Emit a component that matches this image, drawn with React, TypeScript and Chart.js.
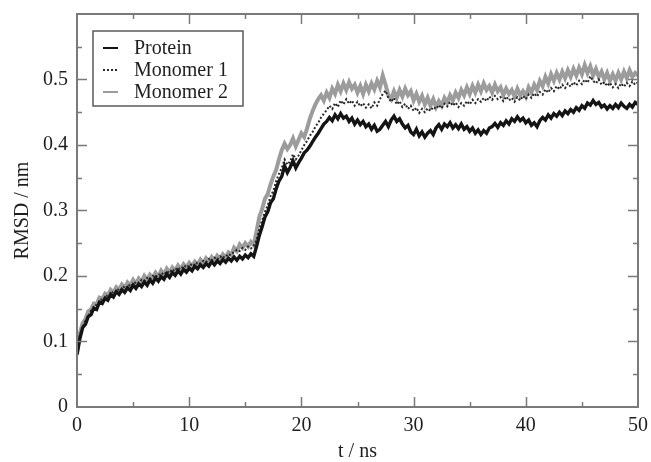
import React, { useEffect, useRef } from "react";
import { Chart, registerables } from "chart.js";

Chart.register(...registerables);

// sampling interval of the trajectories (ns)
const T_STEP = 0.25;

const X_TICKS = [0, 10, 20, 30, 40, 50];
const Y_TICKS = [0, 0.1, 0.2, 0.3, 0.4, 0.5];

const SERIES_LABELS = ["Protein", "Monomer 1", "Monomer 2"];

const protein = [
  0.080, 0.104, 0.121, 0.126,
  0.138, 0.141, 0.151, 0.149,
  0.160, 0.158, 0.166, 0.163,
  0.172, 0.168, 0.176, 0.172,
  0.179, 0.175, 0.182, 0.178,
  0.186, 0.181, 0.188, 0.184,
  0.191, 0.186, 0.194, 0.189,
  0.197, 0.192, 0.199, 0.195,
  0.203, 0.198, 0.205, 0.201,
  0.208, 0.203, 0.210, 0.206,
  0.212, 0.208, 0.215, 0.211,
  0.217, 0.213, 0.219, 0.215,
  0.222, 0.217, 0.223, 0.219,
  0.225, 0.221, 0.227, 0.223,
  0.229, 0.224, 0.230, 0.226,
  0.232, 0.228, 0.234, 0.230,
  0.245, 0.262, 0.275, 0.290,
  0.298, 0.312, 0.318, 0.333,
  0.345, 0.352, 0.368, 0.358,
  0.366, 0.376, 0.365, 0.373,
  0.380, 0.388, 0.392, 0.398,
  0.405, 0.412, 0.418, 0.425,
  0.432, 0.436, 0.442, 0.437,
  0.446, 0.440, 0.448, 0.441,
  0.444, 0.436, 0.441, 0.432,
  0.438, 0.431, 0.436, 0.428,
  0.432, 0.424, 0.430, 0.421,
  0.424, 0.430, 0.436, 0.428,
  0.438, 0.444, 0.436, 0.440,
  0.432, 0.426, 0.430, 0.420,
  0.416, 0.424, 0.414, 0.420,
  0.412, 0.418, 0.422, 0.416,
  0.426, 0.431, 0.424, 0.432,
  0.428, 0.434, 0.426, 0.431,
  0.425, 0.432, 0.424, 0.428,
  0.421, 0.426, 0.418, 0.423,
  0.416, 0.422, 0.418, 0.426,
  0.428, 0.433, 0.427, 0.434,
  0.430, 0.437, 0.432, 0.440,
  0.436, 0.443, 0.437, 0.441,
  0.434, 0.438, 0.430, 0.434,
  0.428, 0.437, 0.442, 0.438,
  0.446, 0.441, 0.448, 0.444,
  0.450, 0.445, 0.452, 0.448,
  0.454, 0.450, 0.457, 0.453,
  0.460, 0.456, 0.464, 0.461,
  0.468, 0.462, 0.465, 0.458,
  0.461, 0.455, 0.460, 0.456,
  0.462, 0.457, 0.464, 0.459,
  0.456, 0.462, 0.458, 0.465,
  0.462,
];

const monomer1 = [
  0.082, 0.110, 0.121, 0.132,
  0.138, 0.147, 0.150, 0.157,
  0.159, 0.166, 0.165, 0.172,
  0.171, 0.177, 0.175, 0.181,
  0.179, 0.185, 0.182, 0.188,
  0.186, 0.191, 0.189, 0.194,
  0.192, 0.197, 0.195, 0.200,
  0.198, 0.203, 0.201, 0.206,
  0.203, 0.209, 0.206, 0.212,
  0.209, 0.214, 0.212, 0.217,
  0.214, 0.219, 0.216, 0.221,
  0.219, 0.223, 0.221, 0.226,
  0.223, 0.228, 0.225, 0.230,
  0.227, 0.232, 0.230, 0.235,
  0.236, 0.240, 0.238, 0.243,
  0.240, 0.245, 0.242, 0.246,
  0.255, 0.272, 0.285, 0.298,
  0.308, 0.322, 0.330, 0.345,
  0.356, 0.365, 0.378, 0.370,
  0.375, 0.386, 0.378, 0.384,
  0.392, 0.400, 0.406, 0.414,
  0.420, 0.428, 0.434, 0.442,
  0.448, 0.453, 0.460, 0.455,
  0.464, 0.458, 0.468, 0.462,
  0.470, 0.463, 0.468, 0.460,
  0.466, 0.459, 0.464, 0.457,
  0.462, 0.456, 0.465, 0.460,
  0.470, 0.478, 0.483, 0.472,
  0.466, 0.472, 0.462, 0.467,
  0.458, 0.463, 0.455, 0.460,
  0.452, 0.457, 0.449, 0.455,
  0.450, 0.456, 0.452, 0.458,
  0.455, 0.461, 0.456, 0.463,
  0.459, 0.466, 0.460, 0.465,
  0.458, 0.464, 0.460, 0.467,
  0.462, 0.469, 0.464, 0.470,
  0.466, 0.472, 0.467, 0.474,
  0.469, 0.475, 0.470, 0.473,
  0.467, 0.474, 0.468, 0.472,
  0.466, 0.473, 0.468, 0.475,
  0.470, 0.477, 0.472, 0.479,
  0.474, 0.481, 0.477, 0.485,
  0.480, 0.487, 0.482, 0.490,
  0.485, 0.492, 0.487, 0.494,
  0.489, 0.496, 0.491, 0.498,
  0.493, 0.500, 0.495, 0.505,
  0.498, 0.494, 0.500, 0.492,
  0.496, 0.490, 0.495, 0.488,
  0.493, 0.487, 0.494, 0.489,
  0.495, 0.490, 0.497, 0.492,
  0.496,
];

const monomer2 = [
  0.085, 0.112, 0.128, 0.134,
  0.146, 0.149, 0.158, 0.157,
  0.167, 0.165, 0.173, 0.170,
  0.179, 0.175, 0.183, 0.179,
  0.187, 0.182, 0.190, 0.185,
  0.194, 0.188, 0.196, 0.191,
  0.200, 0.194, 0.202, 0.197,
  0.205, 0.199, 0.208, 0.202,
  0.211, 0.205, 0.213, 0.208,
  0.216, 0.210, 0.218, 0.213,
  0.220, 0.215, 0.222, 0.218,
  0.225, 0.219, 0.227, 0.222,
  0.229, 0.223, 0.231, 0.226,
  0.233, 0.228, 0.236, 0.232,
  0.243, 0.238, 0.248, 0.243,
  0.250, 0.245, 0.252, 0.247,
  0.268, 0.290, 0.302, 0.318,
  0.325, 0.340, 0.352, 0.362,
  0.378, 0.392, 0.402, 0.394,
  0.400, 0.410, 0.398, 0.408,
  0.418, 0.412, 0.425, 0.440,
  0.452, 0.462, 0.470, 0.476,
  0.468, 0.480, 0.472, 0.486,
  0.478, 0.492, 0.482, 0.494,
  0.484, 0.496, 0.486, 0.492,
  0.480, 0.490, 0.478, 0.492,
  0.482, 0.494, 0.485, 0.498,
  0.488, 0.506, 0.492, 0.476,
  0.470, 0.482, 0.472, 0.484,
  0.474, 0.486, 0.476, 0.482,
  0.468, 0.478, 0.466, 0.475,
  0.462, 0.472, 0.460, 0.470,
  0.458, 0.467, 0.460, 0.472,
  0.465, 0.476, 0.468, 0.480,
  0.472, 0.484, 0.476, 0.488,
  0.478, 0.490, 0.480, 0.492,
  0.482, 0.494, 0.484, 0.490,
  0.480, 0.492, 0.482, 0.488,
  0.476, 0.486, 0.478, 0.484,
  0.474, 0.486, 0.476, 0.482,
  0.474, 0.488, 0.480, 0.492,
  0.484, 0.498, 0.490, 0.504,
  0.494, 0.508, 0.498, 0.510,
  0.500, 0.512, 0.502, 0.514,
  0.504, 0.516, 0.506, 0.518,
  0.508, 0.522, 0.510, 0.520,
  0.506, 0.516, 0.504, 0.512,
  0.500, 0.510, 0.498, 0.508,
  0.498, 0.510, 0.500, 0.512,
  0.502, 0.514, 0.504, 0.510,
  0.506,
];

const FONT_FAMILY = "'Liberation Serif', 'Times New Roman', 'DejaVu Serif', serif";
const TEXT_COLOR = "#1e1e1e";
const FRAME_COLOR = "#7a7a7a";

const toPoints = (arr: number[]) => arr.map((v, i) => ({ x: i * T_STEP, y: v }));

const framePlugin = {
  id: "frameTicks",
  afterDatasetsDraw(chart: any) {
    const { ctx, chartArea, scales } = chart;
    const { left, right, top, bottom } = chartArea;
    const xs = scales.x;
    const ys = scales.y;
    ctx.save();
    ctx.strokeStyle = FRAME_COLOR;
    ctx.lineWidth = 2;
    ctx.setLineDash([]);
    ctx.strokeRect(left, top, right - left, bottom - top);
    ctx.lineWidth = 1.5;
    for (let v = 5; v < 50; v += 5) {
      const len = v % 10 === 0 ? 10 : 5;
      const px = Math.round(xs.getPixelForValue(v)) + 0.5;
      ctx.beginPath();
      ctx.moveTo(px, bottom);
      ctx.lineTo(px, bottom - len);
      ctx.moveTo(px, top);
      ctx.lineTo(px, top + len);
      ctx.stroke();
    }
    for (let k = 1; k < 12; k++) {
      const v = k * 0.05;
      const len = k % 2 === 0 ? 10 : 5;
      const py = Math.round(ys.getPixelForValue(v)) + 0.5;
      ctx.beginPath();
      ctx.moveTo(left, py);
      ctx.lineTo(left + len, py);
      ctx.moveTo(right, py);
      ctx.lineTo(right - len, py);
      ctx.stroke();
    }
    ctx.restore();
  },
};

const legendPlugin = {
  id: "boxLegend",
  afterDraw(chart: any) {
    const { ctx, chartArea } = chart;
    const x0 = chartArea.left + 16;
    const y0 = chartArea.top + 17;
    const w = 150;
    const h = 75;
    ctx.save();
    ctx.fillStyle = "#ffffff";
    ctx.fillRect(x0, y0, w, h);
    ctx.strokeStyle = "#5a5a5a";
    ctx.lineWidth = 1.5;
    ctx.setLineDash([]);
    ctx.strokeRect(x0, y0, w, h);
    ctx.font = `20px ${FONT_FAMILY}`;
    ctx.textBaseline = "alphabetic";
    ctx.textAlign = "left";
    chart.data.datasets.forEach((ds: any, i: number) => {
      const by = y0 + 23 + i * 22;
      const ly = by - 6;
      ctx.strokeStyle = ds.borderColor;
      ctx.lineWidth = Math.min(ds.borderWidth, 2);
      ctx.setLineDash(ds.borderDash || []);
      ctx.beginPath();
      ctx.moveTo(x0 + 10, ly);
      ctx.lineTo(x0 + 25, ly);
      ctx.stroke();
      ctx.setLineDash([]);
      ctx.fillStyle = TEXT_COLOR;
      ctx.fillText(ds.label, x0 + 41, by);
    });
    ctx.restore();
  },
};

const zeroPadding = (s: any) => {
  s.paddingTop = 0;
  s.paddingBottom = 0;
  s.paddingLeft = 0;
  s.paddingRight = 0;
};

export default function App() {
  const ref = useRef<HTMLCanvasElement | null>(null);

  useEffect(() => {
    if (!ref.current) return;
    const font = { family: FONT_FAMILY, size: 20 };
    const chart = new Chart(ref.current, {
      type: "line",
      data: {
        datasets: [
          {
            label: SERIES_LABELS[0],
            data: toPoints(protein),
            borderColor: "#141414",
            borderWidth: 3.4,
            pointRadius: 0,
            tension: 0,
          },
          {
            label: SERIES_LABELS[1],
            data: toPoints(monomer1),
            borderColor: "#2a2a2a",
            borderWidth: 2,
            borderDash: [2, 2],
            pointRadius: 0,
            tension: 0,
          },
          {
            label: SERIES_LABELS[2],
            data: toPoints(monomer2),
            borderColor: "#9c9c9c",
            borderWidth: 4,
            pointRadius: 0,
            tension: 0,
          },
        ],
      },
      options: {
        responsive: false,
        animation: false,
        events: [],
        layout: { padding: { left: 0, top: 14, right: 13, bottom: 0 } },
        plugins: {
          legend: { display: false },
          tooltip: { enabled: false },
        },
        scales: {
          x: {
            type: "linear",
            min: 0,
            max: 50,
            afterFit: (s: any) => {
              s.height = 55;
              zeroPadding(s);
            },
            afterBuildTicks: (s: any) => {
              s.ticks = X_TICKS.map((v) => ({ value: v }));
            },
            ticks: {
              font,
              color: TEXT_COLOR,
              padding: 7,
              maxRotation: 0,
              callback: (v: any) => String(v),
            },
            grid: { display: false, drawTicks: false },
            border: { display: false },
            title: {
              display: true,
              text: "t / ns",
              font: { family: FONT_FAMILY, size: 20, lineHeight: 1 },
              color: TEXT_COLOR,
              padding: { top: 0, bottom: 0 },
            },
          },
          y: {
            type: "linear",
            min: 0,
            max: 0.6,
            afterFit: (s: any) => {
              s.width = 77;
              zeroPadding(s);
            },
            afterBuildTicks: (s: any) => {
              s.ticks = Y_TICKS.map((v) => ({ value: v }));
            },
            ticks: {
              font,
              color: TEXT_COLOR,
              padding: 9,
              callback: (v: any) => String(Number(Number(v).toFixed(1))),
            },
            grid: { display: false, drawTicks: false },
            border: { display: false },
            title: {
              display: true,
              text: "RMSD / nm",
              font: { family: FONT_FAMILY, size: 20, lineHeight: 1 },
              color: TEXT_COLOR,
              padding: { top: 13, bottom: 0 },
            },
          },
        },
      },
      plugins: [framePlugin, legendPlugin],
    });
    return () => chart.destroy();
  }, []);

  return (
    <div style={{ position: "fixed", left: 0, top: 0, width: 651, height: 462, background: "#fff" }}>
      <canvas ref={ref} width={651} height={462} />
    </div>
  );
}
